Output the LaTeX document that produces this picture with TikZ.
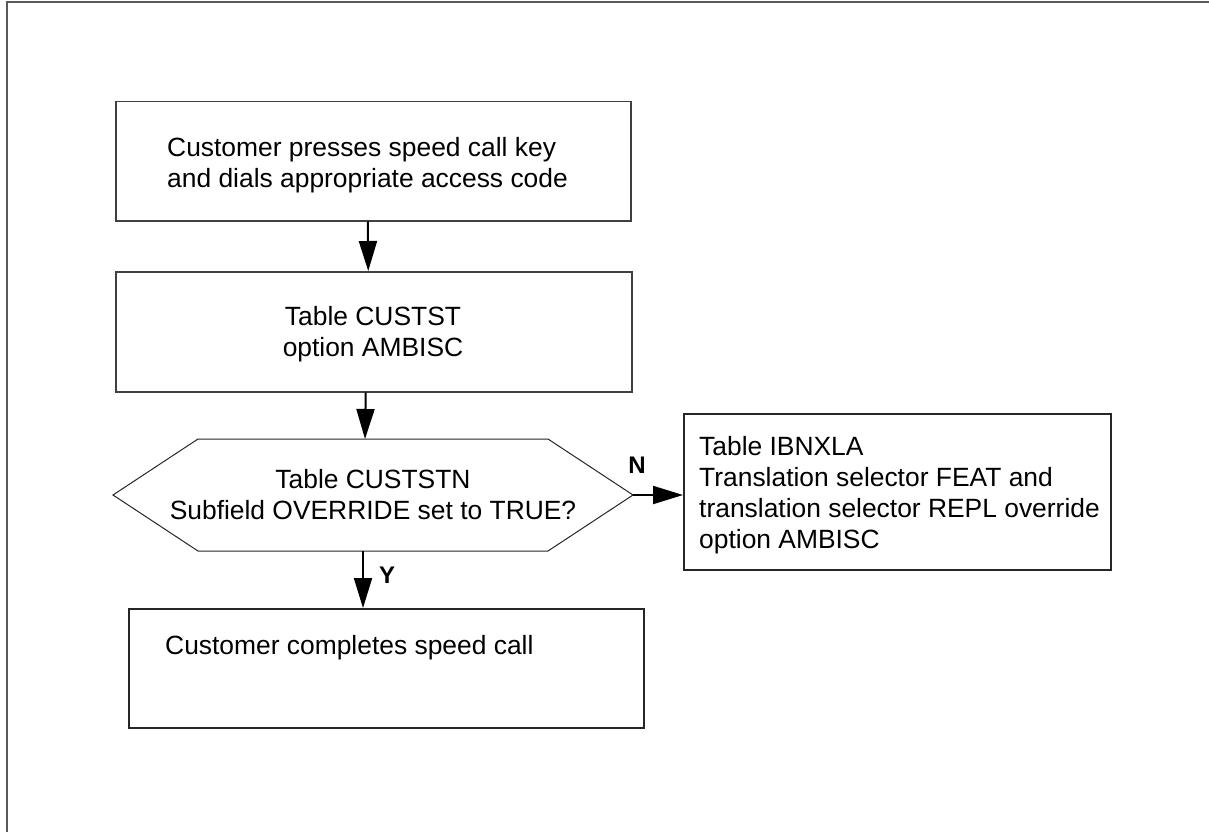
\documentclass[tikz,border=0pt]{standalone}
\usepackage{fontspec}
\setmainfont{Liberation Sans}
\usetikzlibrary{arrows.meta}
\begin{document}
\begin{tikzpicture}[x=1pt,y=-1pt,
  box/.style={draw=black!75, line width=1.5pt, inner sep=0pt, anchor=north west},
  txt/.style={font=\fontsize{26.4}{31}\selectfont, inner sep=0pt},
  arr/.style={line width=2pt, -{Triangle[length=30pt,width=18pt]}},
  lbl/.style={font=\fontsize{24}{28}\selectfont\bfseries, inner sep=0pt}]
\useasboundingbox (0,0) rectangle (1209,832);
\draw[line width=2pt, black!65] (7,832) -- (7,2) -- (1209,2);

% boxes
\node[box, minimum width=515pt, minimum height=119pt] (b1) at (115,101) {};
\node[box, minimum width=516pt, minimum height=120pt] (b2) at (115,271) {};
\node[box, draw=black!85, minimum width=427pt, minimum height=156pt] (bn) at (683,413) {};
\node[box, draw=black!85, minimum width=515pt, minimum height=119pt] (b4) at (128,608) {};

% decision hexagon
\coordinate (hL) at (113,495);
\coordinate (hR) at (633,495);
\coordinate (hT) at (365,439);
\coordinate (hB) at (363,551);
\draw[line width=1pt, black!85] (hL) -- (198,439) -- (548,439) -- (hR) -- (548,551) -- (198,551) -- cycle;

% texts
\node[txt, anchor=north west, align=left] (t1) at (167,137)
  {Customer presses speed call key\\and dials appropriate access code};
\node[txt, align=center] (t2) at (373,334) {Table CUSTST\\option AMBISC};
\node[txt, align=center] (th) at (373,495) {Table CUSTSTN\\Subfield OVERRIDE set to TRUE?};
\node[txt, anchor=north west, align=left] (tn) at (699,436)
  {Table IBNXLA\\Translation selector FEAT and\\translation selector REPL override\\option AMBISC};
\node[txt, anchor=base west] (t4) at (165,654) {Customer completes speed call};

% connectors
\draw[arr] ([xshift=-5.5pt]b1.south) -- ([xshift=-5.5pt]b2.north);
\draw[arr] ([xshift=-8pt]b2.south) -- (hT);
\draw[arr] (hB) -- (hB |- b4.north);
\draw[arr] (hR) -- (hR -| bn.west);

% labels
\node[lbl] (lN) at (637,465) {N};
\node[lbl] (lY) at (387,575) {Y};
\end{tikzpicture}
\end{document}
